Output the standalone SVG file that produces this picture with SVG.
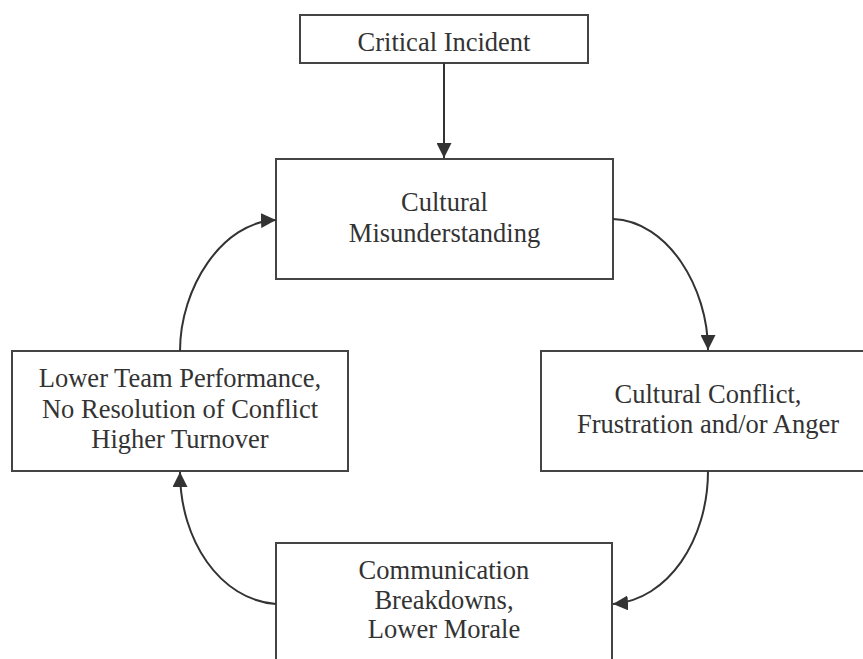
<svg xmlns="http://www.w3.org/2000/svg" width="863" height="659" viewBox="0 0 863 659">
  <style>
    .box { fill: #ffffff; stroke: #444444; stroke-width: 2; }
    .label { font-size: 26.5px; fill: #333333; text-anchor: middle; }
    .conn { fill: none; stroke: #333333; stroke-width: 2; marker-end: url(#arrow); }
  </style>
  <defs>
    <marker id="arrow" viewBox="0 0 10 10" refX="10" refY="5" markerUnits="userSpaceOnUse" markerWidth="15" markerHeight="15" orient="auto">
      <path d="M0,0 L10,5 L0,10 z" fill="#333333"/>
    </marker>
  </defs>
  <rect width="863" height="659" fill="#ffffff"/>

  <g font-family="'Liberation Serif', 'Times New Roman', 'DejaVu Serif', serif">
    <g id="critical-incident">
      <rect class="box" x="300" y="15" width="288" height="48"/>
      <text class="label" x="444" y="51">Critical Incident</text>
    </g>

    <g id="cultural-misunderstanding">
      <rect class="box" x="276" y="159" width="337" height="120"/>
      <text class="label" x="444.5" y="211">Cultural</text>
      <text class="label" x="444.5" y="242">Misunderstanding</text>
    </g>

    <g id="cultural-conflict">
      <rect class="box" x="541" y="351" width="334" height="120"/>
      <text class="label" x="708" y="403">Cultural Conflict,</text>
      <text class="label" x="708" y="433">Frustration and/or Anger</text>
    </g>

    <g id="communication-breakdowns">
      <rect class="box" x="276" y="543" width="336" height="130"/>
      <text class="label" x="444" y="579">Communication</text>
      <text class="label" x="444" y="609">Breakdowns,</text>
      <text class="label" x="444" y="638">Lower Morale</text>
    </g>

    <g id="lower-team-performance">
      <rect class="box" x="12" y="351" width="336" height="120"/>
      <text class="label" x="180" y="387">Lower Team Performance,</text>
      <text class="label" x="180" y="418">No Resolution of Conflict</text>
      <text class="label" x="180" y="448">Higher Turnover</text>
    </g>
  </g>

  <g id="connectors">
    <path class="conn" d="M444,63 L444,158"/>
    <path class="conn" d="M613,219 C668,221 708,288 708,350"/>
    <path class="conn" d="M708,471 C708,540 668,600 613,604"/>
    <path class="conn" d="M276,604 C220,600 180,540 180,472"/>
    <path class="conn" d="M180,351 C180,288 222,222 276,220"/>
  </g>
</svg>
